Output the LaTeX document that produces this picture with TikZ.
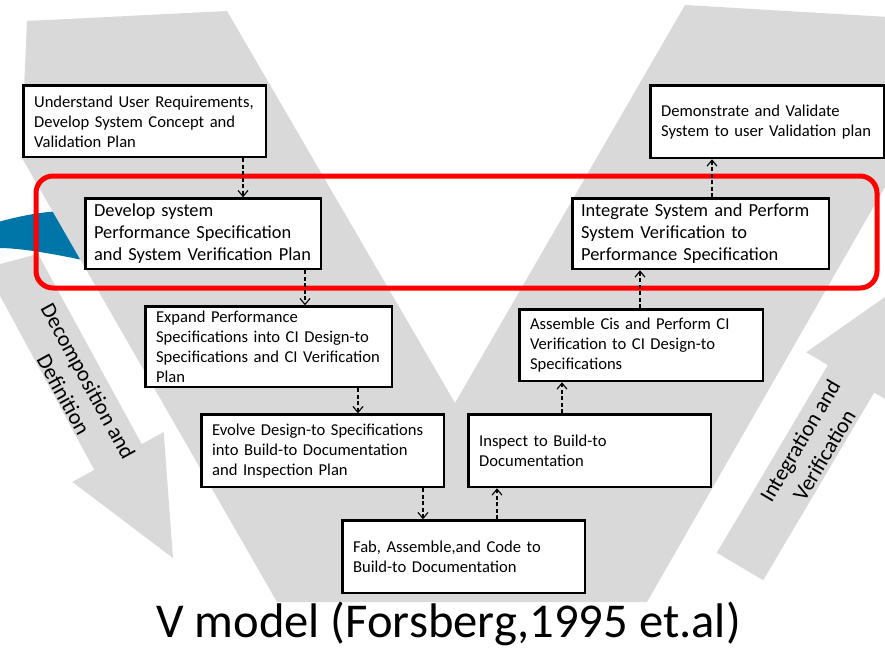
\documentclass[tikz,border=0pt]{standalone}
\usepackage{fontspec}
\setmainfont{Carlito}
\usepackage{xcolor}
\usepackage{tikz}
\usetikzlibrary{arrows.meta}
\definecolor{vGrey}{RGB}{217,217,217}
\definecolor{swooshBlue}{RGB}{0,117,168}
\definecolor{frameRed}{RGB}{255,0,0}
\tikzset{
  stageBox/.style={
    rectangle,
    draw=black,
    fill=white,
    line width=2.6pt,
    anchor=north west,
    align=left,
    inner xsep=10.5pt,
    inner ysep=0pt,
    font=\fontsize{16.6}{20}\selectfont
  },
  bigStageBox/.style={
    stageBox,
    inner xsep=8.5pt,
    font=\fontsize{18.4}{22}\selectfont
  },
  flowArrow/.style={
    -{Straight Barb[length=6pt,width=10pt]},
    line width=1.1pt,
    dash pattern=on 4pt off 2.5pt
  },
  phaseLabel/.style={
    align=center,
    font=\fontsize{22}{28}\selectfont
  },
  redFrame/.style={
    draw=frameRed,
    line width=5pt,
    rounded corners=17pt
  }
}

\begin{document}
\begin{tikzpicture}[x=1pt,y=-1pt]
        \useasboundingbox (0,0) rectangle (885,648);
        \clip (0,0) rectangle (885,648);
        \fill[white] (0,0) rectangle (885,648);

        \fill[swooshBlue] (-2,222) .. controls (20,216) and (40,212) .. (62,211) -- (92,262) .. controls (50,253) and (20,248) .. (-2,248) -- cycle;
        \fill[vGrey] (-15,268) -- (38,254) -- (141.7,444.1) -- (163.7,432.1) -- (173,558) -- (72.3,481.9) -- (94.3,469.9) -- cycle;
        \fill[vGrey] (716.8,552.8) -- (827.8,365.1) -- (806.2,352.3) -- (909.5,279.8) -- (895.8,405.3) -- (874.2,392.5) -- (763.2,580.2) -- cycle;
        \fill[vGrey] (27,21) -- (227,11) -- (455,403) -- (685,5) -- (905,18) -- (905,152) -- (647,602) -- (277,602) -- (22,158) -- (24,90) -- cycle;

        \draw[redFrame] (36,176) rectangle (877,288);

        \node[stageBox, text width=221.4pt, minimum height=71.4pt] (userReq) at (22.3,84.3) {Understand User Requirements,\\Develop System Concept and\\Validation Plan};
        \node[bigStageBox, text width=218.4pt, minimum height=70.4pt] (developSpec) at (84.3,197.3) {Develop system\\Performance Specification\\and System Verification Plan};
        \node[stageBox, text width=225.4pt, minimum height=80.4pt] (expandSpec) at (144.3,305.3) {Expand Performance\\Specifications into CI Design-to\\Specifications and CI Verification\\Plan};
        \node[stageBox, text width=221.4pt, minimum height=72.4pt] (evolveDesign) at (200.3,413.3) {Evolve Design-to Specifications\\into Build-to Documentation\\and Inspection Plan};
        \node[stageBox, text width=221.4pt, minimum height=72.4pt] (fabCode) at (341.3,519.3) {Fab, Assemble,and Code to\\Build-to Documentation};
        \node[stageBox, text width=221.4pt, minimum height=72.4pt] (inspectBuild) at (467.3,413.3) {Inspect to Build-to\\Documentation};
        \node[stageBox, text width=222.4pt, minimum height=71.4pt] (assembleCi) at (518.3,308.3) {Assemble Cis and Perform CI\\Verification to CI Design-to\\Specifications};
        \node[bigStageBox, text width=239.4pt, minimum height=70.4pt] (integrateSys) at (571.3,197.3) {Integrate System and Perform\\System Verification to\\Performance Specification};
        \node[stageBox, text width=212.4pt, minimum height=72.4pt] (sysValidate) at (649.3,84.3) {Demonstrate and Validate\\System to user Validation plan};

        \draw[flowArrow] (userReq.south -| 243,0) -- (developSpec.north -| 243,0);
        \draw[flowArrow] (developSpec.south -| 305,0) -- (expandSpec.north -| 305,0);
        \draw[flowArrow] (expandSpec.south -| 358,0) -- (evolveDesign.north -| 358,0);
        \draw[flowArrow] (evolveDesign.south -| 423,0) -- (fabCode.north -| 423,0);
        \draw[flowArrow] (fabCode.north -| 497,0) -- (inspectBuild.south -| 497,0);
        \draw[flowArrow] (inspectBuild.north -| 562,0) -- (assembleCi.south -| 562,0);
        \draw[flowArrow] (assembleCi.north -| 640,0) -- (integrateSys.south -| 640,0);
        \draw[flowArrow] (integrateSys.north -| 712,0) -- (sysValidate.south -| 712,0);

        \node[phaseLabel, rotate=-61.4] (decompLabel) at (76,388) {Decomposition and\\Definition};
        \node[phaseLabel, rotate=59.4] (integLabel) at (812,448) {Integration and\\Verification};
        \node[font=\fontsize{48.6}{58}\selectfont, anchor=base] (modelTitle) at (448.5,637) {V model (Forsberg,1995 et.al)};
    \end{tikzpicture}
\end{document}
